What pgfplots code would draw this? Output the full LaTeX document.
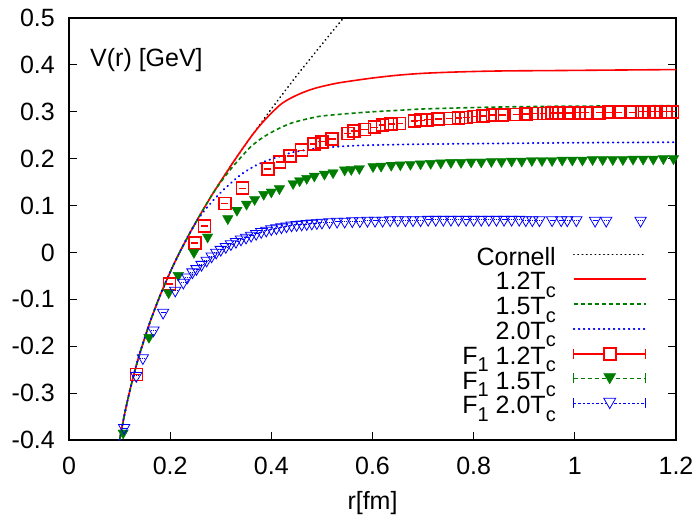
\documentclass[border=0pt]{standalone}
\usepackage{fontspec}
\setmainfont{Liberation Sans}
\usepackage{pgfplots}
\pgfplotsset{compat=1.18}
\usepackage{pgfplotstable}
\definecolor{dkgreen}{RGB}{0,125,0}
\newcommand{\sub}[1]{\raisebox{-0.3em}{\fontsize{20}{20}\selectfont #1}}
\newcommand{\bigfont}{\fontsize{25}{28}\selectfont}

\pgfplotstableread{
r v
0.100 -0.400
0.110 -0.344
0.120 -0.296
0.130 -0.253
0.140 -0.215
0.160 -0.149
0.180 -0.092
0.200 -0.042
0.220 0.003
0.250 0.063
0.280 0.118
0.300 0.152
0.330 0.201
0.360 0.247
0.400 0.306
0.450 0.377
0.500 0.444
0.550 0.510
}\cornell

\pgfplotstableread{
r v
0.100 -0.400
0.110 -0.344
0.120 -0.296
0.130 -0.253
0.140 -0.215
0.160 -0.149
0.180 -0.092
0.200 -0.042
0.220 0.003
0.250 0.063
0.280 0.118
0.300 0.152
0.330 0.201
0.360 0.247
0.380 0.274
0.400 0.297
0.420 0.317
0.440 0.330
0.460 0.340
0.480 0.348
0.500 0.354
0.530 0.361
0.560 0.366
0.600 0.372
0.650 0.378
0.700 0.382
0.770 0.385
0.850 0.387
0.970 0.388
1.080 0.389
1.200 0.390
}\tonetwo

\pgfplotstableread{
r v
0.100 -0.400
0.110 -0.344
0.120 -0.296
0.130 -0.253
0.140 -0.215
0.160 -0.149
0.180 -0.092
0.200 -0.042
0.220 0.003
0.250 0.063
0.280 0.118
0.300 0.150
0.320 0.178
0.340 0.203
0.360 0.226
0.380 0.243
0.400 0.256
0.420 0.267
0.440 0.276
0.460 0.282
0.480 0.287
0.500 0.291
0.550 0.296
0.600 0.300
0.650 0.303
0.700 0.306
0.800 0.309
0.900 0.311
1.000 0.312
1.200 0.313
}\tonefive

\pgfplotstableread{
r v
0.100 -0.400
0.110 -0.344
0.120 -0.296
0.130 -0.253
0.140 -0.215
0.160 -0.149
0.180 -0.092
0.200 -0.042
0.220 0.003
0.240 0.044
0.260 0.078
0.280 0.105
0.300 0.128
0.320 0.148
0.340 0.166
0.360 0.180
0.380 0.191
0.400 0.199
0.420 0.206
0.440 0.213
0.470 0.219
0.500 0.223
0.550 0.227
0.600 0.229
0.700 0.231
0.800 0.232
0.900 0.233
1.000 0.234
1.200 0.235
}\ttwo

\pgfplotstableread{
r v
0.1335 -0.260
0.199 -0.067
0.249 0.020
0.268 0.056
0.308 0.104
0.343 0.137
0.393 0.178
0.416 0.193
0.437 0.206
0.460 0.218
0.484 0.231
0.500 0.236
0.520 0.242
0.551 0.254
0.564 0.259
0.584 0.262
0.604 0.267
0.620 0.272
0.637 0.274
0.653 0.275
0.683 0.280
0.696 0.282
0.709 0.283
0.730 0.285
0.752 0.286
0.770 0.287
0.785 0.288
0.801 0.290
0.818 0.291
0.837 0.293
0.856 0.293
0.884 0.294
0.903 0.295
0.923 0.296
0.939 0.296
0.955 0.297
0.969 0.297
0.989 0.297
1.008 0.298
1.022 0.298
1.048 0.298
1.068 0.299
1.087 0.299
1.114 0.299
1.133 0.300
1.147 0.300
1.160 0.300
1.180 0.300
1.193 0.300
}\Fonetwo

\pgfplotstableread{
r v
0.107 -0.385
0.158 -0.181
0.197 -0.086
0.216 -0.049
0.247 0.000
0.274 0.033
0.314 0.072
0.332 0.090
0.351 0.103
0.367 0.113
0.385 0.124
0.400 0.129
0.416 0.136
0.443 0.147
0.456 0.153
0.470 0.158
0.485 0.163
0.505 0.167
0.522 0.170
0.545 0.176
0.558 0.177
0.574 0.179
0.601 0.183
0.617 0.184
0.637 0.186
0.655 0.187
0.675 0.188
0.695 0.189
0.715 0.190
0.735 0.191
0.755 0.192
0.775 0.192
0.795 0.193
0.815 0.193
0.835 0.194
0.855 0.194
0.875 0.195
0.895 0.195
0.915 0.196
0.935 0.196
0.955 0.196
0.975 0.197
0.995 0.197
1.015 0.197
1.035 0.198
1.055 0.198
1.075 0.198
1.095 0.198
1.115 0.199
1.135 0.199
1.155 0.199
1.175 0.200
1.195 0.200
}\Fonefive

\pgfplotstableread{
r v
0.109 -0.374
0.133 -0.263
0.146 -0.225
0.167 -0.166
0.186 -0.128
0.210 -0.081
0.226 -0.064
0.234 -0.053
0.244 -0.042
0.252 -0.035
0.262 -0.026
0.272 -0.017
0.282 -0.008
0.291 0.000
0.300 0.006
0.310 0.012
0.320 0.018
0.330 0.023
0.340 0.028
0.350 0.032
0.360 0.036
0.370 0.040
0.380 0.044
0.390 0.047
0.400 0.050
0.410 0.052
0.420 0.054
0.430 0.056
0.440 0.058
0.450 0.059
0.460 0.060
0.470 0.061
0.480 0.062
0.490 0.063
0.500 0.064
0.515 0.065
0.530 0.066
0.545 0.066
0.560 0.067
0.575 0.067
0.590 0.068
0.605 0.068
0.620 0.068
0.635 0.069
0.650 0.069
0.665 0.069
0.680 0.069
0.695 0.069
0.710 0.070
0.725 0.070
0.740 0.070
0.755 0.070
0.770 0.070
0.785 0.070
0.800 0.070
0.815 0.070
0.830 0.070
0.845 0.070
0.860 0.070
0.875 0.070
0.890 0.070
0.903 0.069
0.916 0.069
0.930 0.069
0.955 0.069
0.973 0.069
0.985 0.069
1.003 0.069
1.040 0.068
1.062 0.068
1.130 0.068
}\Ftwo

\begin{document}
\begin{tikzpicture}
\begin{axis}[
  name=ax,
  scale only axis, width=607pt, height=422pt,
  xmin=0, xmax=1.2, ymin=-0.4, ymax=0.5,
  xtick={0,0.2,0.4,0.6,0.8,1,1.2},
  ytick={-0.4,-0.3,-0.2,-0.1,0,0.1,0.2,0.3,0.4,0.5},
  xtick pos=left, ytick pos=both,
  tick align=inside,
  major tick length=8pt,
  tick style={black, line width=1.2pt},
  axis line style={line width=1.5pt},
  /pgf/number format/assume math mode=true,
  tick label style={font=\bigfont, inner sep=0pt},
  xticklabel style={yshift=-17pt},
  yticklabel style={xshift=-14pt},
  xlabel={r[fm]},
  xlabel style={font=\bigfont, at={(axis description cs:0.5,0)}, anchor=center, yshift=-63pt},
  legend plot pos=right,
  legend cell align=right,
  legend style={draw=none, fill=none, at={(0.952,0.455)}, anchor=north east,
    inner sep=0pt, column sep=17pt, row sep=0pt, font=\bigfont,
    nodes={inner sep=0pt, text height=17pt, text depth=7.7pt}},
  legend image code/.code={\draw[#1] (0pt,6pt) -- (72pt,6pt);},
]
\addplot[black, line width=1.8pt, line cap=round, dash pattern=on 0.3pt off 4pt] table[x=r,y=v] {\cornell};
\addlegendentry{Cornell}
\addplot[red, line width=1.6pt, smooth] table[x=r,y=v] {\tonetwo};
\addlegendentry{1.2T\sub{c}}
\addplot[dkgreen, line width=1.6pt, dash pattern=on 4pt off 3pt, smooth] table[x=r,y=v] {\tonefive};
\addlegendentry{1.5T\sub{c}}
\addplot[blue, line width=1.9pt, line cap=round, dash pattern=on 0.6pt off 4.4pt, smooth] table[x=r,y=v] {\ttwo};
\addlegendentry{2.0T\sub{c}}

\addplot[color=red, only marks, mark=square, mark size=6pt, mark options={draw=red, line width=1.6pt, solid},
  legend image code/.code={
    \draw[draw=red, line width=1.5pt] (0pt,6pt) -- (72pt,6pt) (0pt,1pt) -- (0pt,11pt) (72pt,1pt) -- (72pt,11pt);
    \draw[draw=red, line width=1.6pt, fill=white] (30pt,0pt) rectangle (42pt,12pt);
  }]
  table[x=r,y=v] {\Fonetwo};
\addlegendentry{F\sub{1} 1.2T\sub{c}}

\addplot[color=dkgreen, only marks, mark=triangle*, mark size=6pt, mark options={rotate=180, solid, draw=dkgreen, fill=dkgreen},
  legend image code/.code={
    \draw[draw=dkgreen, line width=0.9pt, dash pattern=on 4pt off 3pt] (0pt,6pt) -- (72pt,6pt);
    \draw[draw=dkgreen, line width=0.9pt] (0pt,1pt) -- (0pt,11pt) (72pt,1pt) -- (72pt,11pt);
    \fill[fill=dkgreen] (30pt,11pt) -- (42pt,11pt) -- (36pt,0.6pt) -- cycle;
  }]
  table[x=r,y=v] {\Fonefive};
\addlegendentry{F\sub{1} 1.5T\sub{c}}

\addplot[color=blue, only marks, mark=triangle, mark size=6.5pt, mark options={rotate=180, solid, draw=blue, line width=0.8pt},
  legend image code/.code={
    \draw[draw=blue, line width=0.9pt, dash pattern=on 2.5pt off 2pt] (0pt,6pt) -- (72pt,6pt);
    \draw[draw=blue, line width=0.9pt] (0pt,1pt) -- (0pt,11pt) (72pt,1pt) -- (72pt,11pt);
    \draw[draw=blue, line width=0.8pt, fill=white] (30pt,11pt) -- (42pt,11pt) -- (36pt,0.6pt) -- cycle;
  }]
  table[x=r,y=v] {\Ftwo};
\addlegendentry{F\sub{1} 2.0T\sub{c}}

% tiny error-bar ticks inside the markers
\addplot[forget plot, color=red, only marks, mark=-, mark size=3.5pt, mark options={draw=red, line width=1.4pt, solid}] table[x=r,y=v] {\Fonetwo};
\addplot[forget plot, color=blue, only marks, mark=-, mark size=2.5pt, mark options={draw=blue, line width=0.6pt, dash pattern=on 1.2pt off 0.8pt}] table[x=r,y=v] {\Ftwo};

\node[anchor=base west, inner sep=0pt, font=\bigfont] at (axis cs:0.0415,0.397) {V(r) [GeV]};
\end{axis}
\path ([shift={(-69pt,-80pt)}]ax.south west) rectangle ([shift={(21pt,18pt)}]ax.north east);
\end{tikzpicture}
\end{document}
